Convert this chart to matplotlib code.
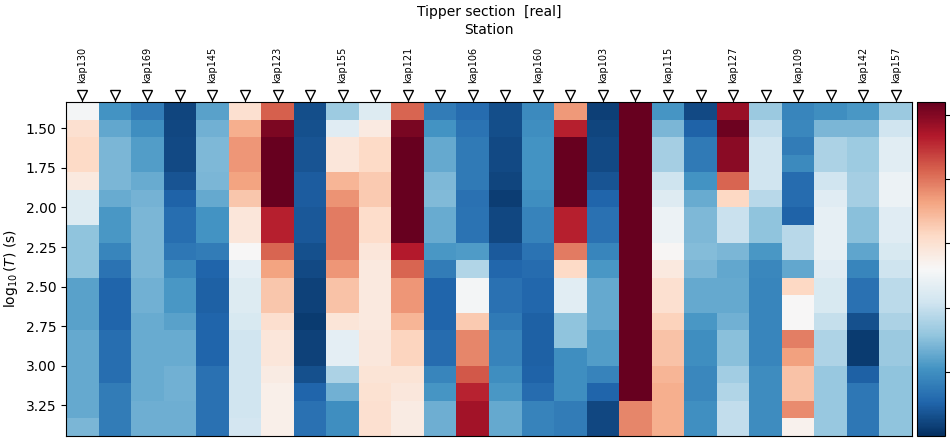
#!/usr/bin/env python3
"""Tipper section (real part) as a station x period heatmap."""
import matplotlib
matplotlib.use('Agg')
import matplotlib.pyplot as plt
import matplotlib.transforms as mtransforms
import numpy as np

# =============================================================================
# Data
# =============================================================================
# station labels (only every other one is printed in the original)
stations = ['kap130', '', 'kap169', '', 'kap145', '', 'kap123', '', 'kap155', '',
            'kap121', '', 'kap106', '', 'kap160', '', 'kap103', '', 'kap115', '',
            'kap127', '', 'kap109', '', 'kap142', 'kap157']

# log10 of period (s), one entry per row
log_periods = [1.389, 1.500, 1.611, 1.722, 1.833, 1.944, 2.056, 2.167, 2.278, 2.389,
               2.500, 2.611, 2.722, 2.833, 2.944, 3.056, 3.167, 3.278, 3.389]

# real tipper value, one list per station (short -> long period)
tipper_real = [
    [-0.090, 0.003, 0.024, 0.024, -0.028, -0.153, -0.153, -0.288, -0.288, -0.288, -0.361, -0.361, -0.361, -0.345, -0.345, -0.345, -0.345, -0.345, -0.319],
    [-0.392, -0.350, -0.319, -0.319, -0.319, -0.340, -0.382, -0.382, -0.423, -0.465, -0.496, -0.496, -0.496, -0.475, -0.475, -0.475, -0.444, -0.444, -0.444],
    [-0.444, -0.402, -0.371, -0.371, -0.340, -0.324, -0.319, -0.319, -0.319, -0.319, -0.330, -0.330, -0.340, -0.340, -0.340, -0.340, -0.340, -0.335, -0.335],
    [-0.558, -0.553, -0.548, -0.548, -0.527, -0.501, -0.475, -0.475, -0.454, -0.413, -0.382, -0.382, -0.361, -0.340, -0.340, -0.330, -0.330, -0.335, -0.335],
    [-0.361, -0.330, -0.314, -0.314, -0.319, -0.345, -0.392, -0.392, -0.444, -0.496, -0.506, -0.506, -0.496, -0.496, -0.496, -0.470, -0.470, -0.470, -0.470],
    [0.003, 0.107, 0.149, 0.149, 0.128, 0.066, -0.018, -0.018, -0.080, -0.132, -0.153, -0.153, -0.163, -0.184, -0.184, -0.184, -0.184, -0.184, -0.174],
    [0.232, 0.409, 0.44, 0.44, 0.44, 0.44, 0.326, 0.326, 0.222, 0.128, 0.066, 0.066, 0.008, -0.018, -0.018, -0.038, -0.049, -0.049, -0.049],
    [-0.543, -0.538, -0.527, -0.527, -0.512, -0.512, -0.522, -0.522, -0.538, -0.548, -0.564, -0.564, -0.579, -0.564, -0.564, -0.538, -0.496, -0.470, -0.470],
    [-0.267, -0.142, -0.018, -0.018, 0.097, 0.154, 0.190, 0.190, 0.190, 0.149, 0.071, 0.071, -0.012, -0.132, -0.132, -0.246, -0.330, -0.402, -0.402],
    [-0.153, -0.033, 0.024, 0.024, 0.055, 0.055, 0.014, 0.014, -0.018, -0.028, -0.028, -0.028, -0.028, -0.023, -0.023, -0.007, -0.002, 0.003, 0.003],
    [0.222, 0.414, 0.44, 0.44, 0.44, 0.44, 0.44, 0.44, 0.331, 0.222, 0.149, 0.149, 0.097, 0.034, 0.034, -0.007, -0.023, -0.038, -0.038],
    [-0.444, -0.392, -0.345, -0.345, -0.314, -0.309, -0.340, -0.340, -0.382, -0.444, -0.496, -0.496, -0.496, -0.480, -0.480, -0.423, -0.387, -0.335, -0.335],
    [-0.480, -0.465, -0.449, -0.449, -0.449, -0.470, -0.465, -0.465, -0.376, -0.236, -0.090, -0.090, 0.055, 0.175, 0.175, 0.242, 0.320, 0.357, 0.357],
    [-0.543, -0.543, -0.548, -0.548, -0.558, -0.574, -0.553, -0.553, -0.517, -0.491, -0.470, -0.470, -0.449, -0.428, -0.428, -0.402, -0.382, -0.345, -0.345],
    [-0.413, -0.402, -0.392, -0.392, -0.392, -0.402, -0.428, -0.428, -0.465, -0.480, -0.491, -0.491, -0.506, -0.506, -0.506, -0.501, -0.480, -0.428, -0.428],
    [0.144, 0.326, 0.44, 0.44, 0.44, 0.44, 0.326, 0.326, 0.190, 0.024, -0.137, -0.137, -0.288, -0.288, -0.402, -0.402, -0.402, -0.444, -0.444],
    [-0.569, -0.558, -0.548, -0.548, -0.527, -0.496, -0.470, -0.470, -0.423, -0.382, -0.345, -0.345, -0.345, -0.371, -0.371, -0.428, -0.496, -0.553, -0.553],
    [0.44, 0.44, 0.44, 0.44, 0.44, 0.44, 0.44, 0.44, 0.44, 0.44, 0.44, 0.44, 0.44, 0.44, 0.44, 0.44, 0.44, 0.175, 0.175],
    [-0.387, -0.319, -0.257, -0.257, -0.189, -0.148, -0.111, -0.111, -0.075, -0.028, 0.003, 0.003, 0.040, 0.071, 0.071, 0.097, 0.107, 0.107, 0.107],
    [-0.548, -0.501, -0.449, -0.449, -0.392, -0.340, -0.314, -0.314, -0.304, -0.319, -0.345, -0.345, -0.382, -0.402, -0.402, -0.418, -0.418, -0.397, -0.397],
    [0.367, 0.430, 0.388, 0.388, 0.222, 0.029, -0.194, -0.194, -0.319, -0.350, -0.345, -0.345, -0.330, -0.298, -0.298, -0.262, -0.236, -0.210, -0.210],
    [-0.272, -0.210, -0.184, -0.184, -0.184, -0.226, -0.288, -0.288, -0.382, -0.418, -0.423, -0.423, -0.423, -0.423, -0.423, -0.408, -0.408, -0.408, -0.408],
    [-0.423, -0.418, -0.444, -0.413, -0.480, -0.480, -0.501, -0.226, -0.226, -0.350, 0.029, -0.080, -0.080, 0.185, 0.133, 0.071, 0.071, 0.164, -0.059],
    [-0.402, -0.319, -0.246, -0.246, -0.184, -0.142, -0.127, -0.127, -0.127, -0.142, -0.163, -0.163, -0.205, -0.241, -0.241, -0.278, -0.278, -0.278, -0.278],
    [-0.382, -0.319, -0.267, -0.267, -0.257, -0.257, -0.298, -0.298, -0.356, -0.423, -0.470, -0.470, -0.538, -0.579, -0.579, -0.506, -0.454, -0.454, -0.454],
    [-0.272, -0.184, -0.137, -0.137, -0.111, -0.111, -0.142, -0.142, -0.163, -0.189, -0.220, -0.220, -0.246, -0.272, -0.272, -0.288, -0.288, -0.288, -0.288],
]

VMIN, VMAX = -0.6, 0.44
cbar_ticks = [-0.4, -0.2, 0.0, 0.2, 0.4]

# =============================================================================
# Figure
# =============================================================================
fig = plt.figure(figsize=(9.5, 4.4), dpi=100)
ax = fig.add_axes([66 / 950, 4 / 440, 846 / 950, 334 / 440])
cax = fig.add_axes([917 / 950, 4 / 440, 28 / 950, 334 / 440])

x = np.arange(len(stations))
C = np.array(tipper_real).T
mesh = ax.pcolormesh(x, log_periods, C, cmap='RdBu_r', vmin=VMIN, vmax=VMAX,
                     shading='nearest')
ax.set_ylim(log_periods[-1] + 0.0556, log_periods[0] - 0.0556)
ax.set_yticks([1.5, 1.75, 2.0, 2.25, 2.5, 2.75, 3.0, 3.25])
ax.set_yticklabels(['%.2f' % v for v in ax.get_yticks()], fontsize=10)
ax.set_ylabel(r'$\log_{10}(T)$ (s)', fontsize=10)

# ticks on top, station markers above
ax.xaxis.tick_top()
ax.set_xticks(x)
ax.set_xticklabels([])
ax.tick_params(axis='x', length=3)

trans = mtransforms.blended_transform_factory(ax.transData, ax.transAxes)
ax.plot(x, [1.022] * len(x), 'v', transform=trans, clip_on=False,
        markersize=7.5, markerfacecolor='white', markeredgecolor='black',
        markeredgewidth=1.0)
for xi, name in zip(x, stations):
    if name:
        ax.text(xi, 1.058, name, transform=trans, rotation=90, ha='center',
                va='bottom', fontsize=7)

ax.text(0.5, 1.215, 'Station', transform=ax.transAxes, ha='center',
        va='center', fontsize=10)
ax.text(0.5, 1.27, 'Tipper section  [real]', transform=ax.transAxes,
        ha='center', va='center', fontsize=10)

# colorbar: tick labels fall outside the canvas in the original, so none shown
cb = fig.colorbar(mesh, cax=cax, ticks=cbar_ticks)
cb.ax.set_yticklabels([])

fig.savefig('out.png', dpi=100, facecolor='white')
plt.close(fig)
